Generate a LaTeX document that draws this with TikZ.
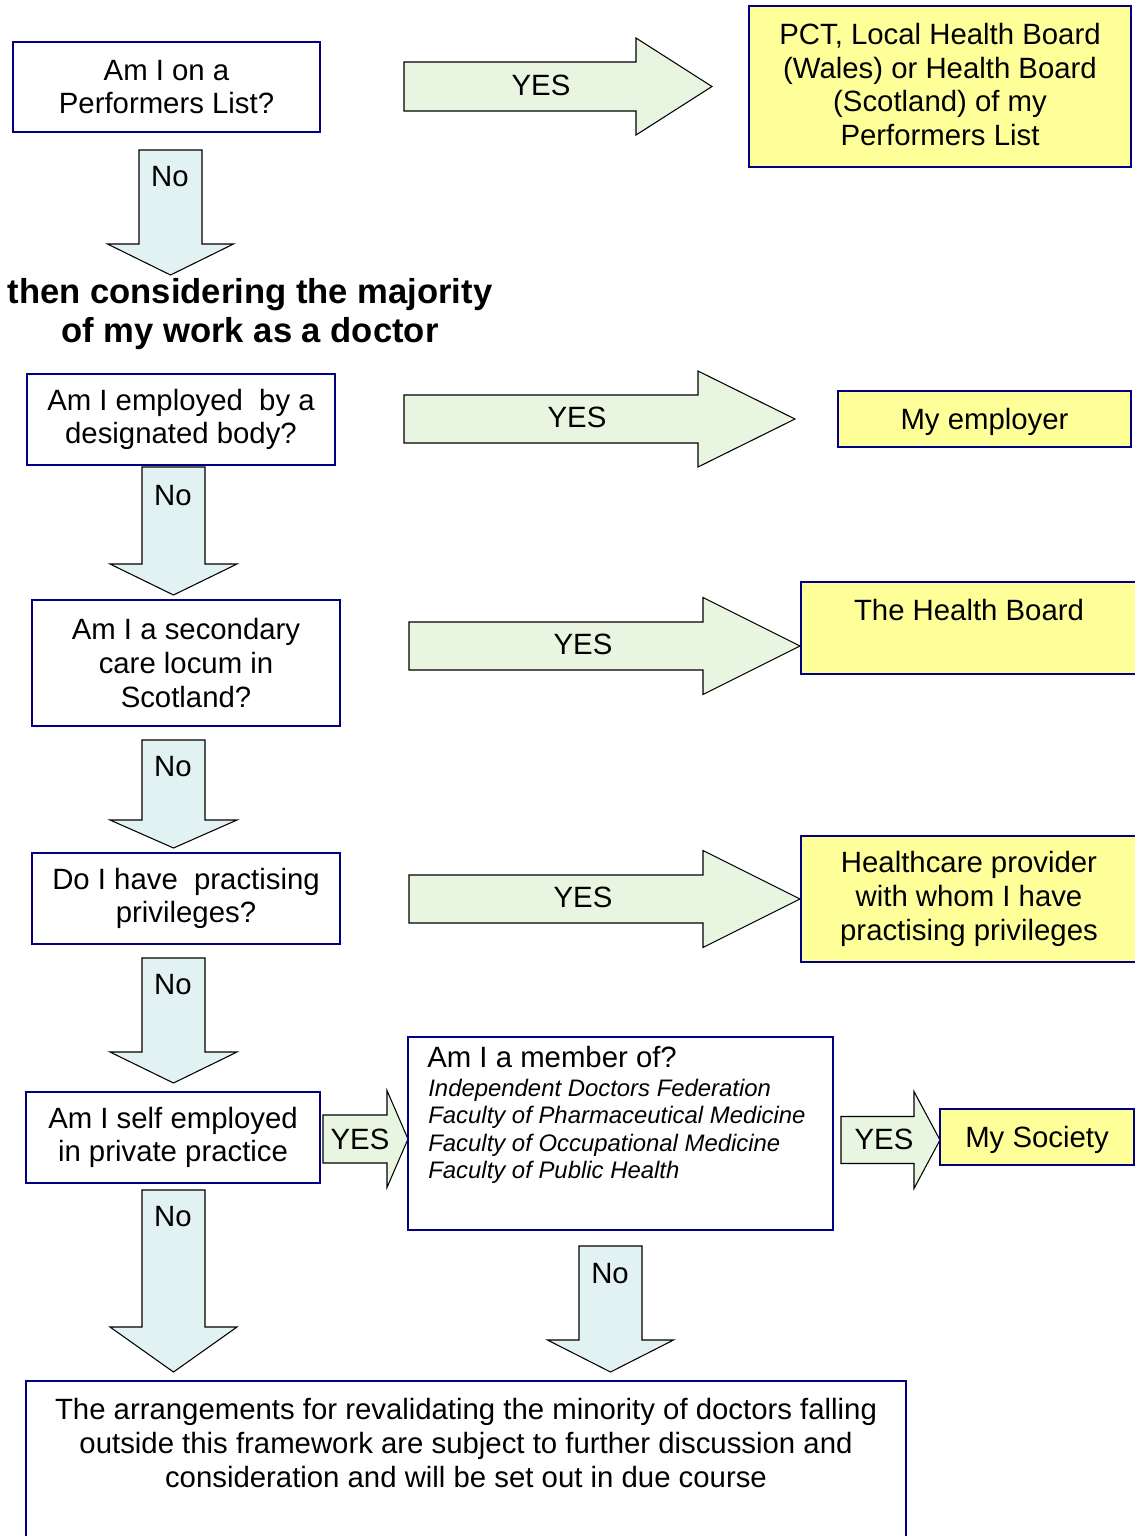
\documentclass[tikz,border=0pt]{standalone}
\usepackage{fontspec}
\setmainfont{Liberation Sans}

\definecolor{boxblue}{RGB}{0,0,128}
\definecolor{answer}{RGB}{255,255,153}
\definecolor{yesgreen}{RGB}{231,245,225}
\definecolor{nocyan}{RGB}{226,241,242}

\newcommand{\pxu}{0.02cm}
% right pointing block arrow: start, head base, tip, centre y, half body, half head
\newcommand{\yesarrow}[6]{%
  \draw[yesfill] (#1,#4-#5) -- (#2,#4-#5) -- (#2,#4-#6) -- (#3,#4)
    -- (#2,#4+#6) -- (#2,#4+#5) -- (#1,#4+#5) -- cycle;}
% downward block arrow: centre x, start, head base, tip, half body, half head
\newcommand{\noarrow}[6]{%
  \draw[nofill] (#1-#5,#2) -- (#1+#5,#2) -- (#1+#5,#3) -- (#1+#6,#3)
    -- (#1,#4) -- (#1-#6,#3) -- (#1-#5,#3) -- cycle;}

\begin{document}
\begin{tikzpicture}[x=0.02cm, y=-0.02cm,
    every node/.style={font=\fontsize{16.7}{19.2}\selectfont, inner sep=0pt, align=center},
    boxdim/.style 2 args={minimum width=#1*\pxu, minimum height=#2*\pxu},
    qbox/.style={draw=boxblue, line width=1.1pt, fill=white},
    ybox/.style={qbox, fill=answer},
    yesfill/.style={draw=black, line width=0.6pt, fill=yesgreen},
    nofill/.style={draw=black, line width=0.6pt, fill=nocyan}]
    \useasboundingbox (0,0) rectangle (1135,1536);

    % Performers list
    \node[qbox, boxdim={307}{90}] (performers) at (166.5,87) {Am I on a\\Performers List?};
    \yesarrow{404}{636}{712}{86.5}{24.5}{48.5}
    \node (yes1) at (541,85) {YES};
    \node[ybox, boxdim={382}{161}] (pct) at (940,86.5) {};
    \node (pcttxt) at (940,84.5)
        {PCT, Local Health Board\\(Wales) or Health Board\\(Scotland) of my\\Performers List};
    \noarrow{170.5}{150}{244}{275}{31.5}{63}
    \node (no1) at (170,177) {No};

    % Heading
    \node[font=\fontsize{19.7}{22.7}\selectfont\bfseries] (majority) at (250,314)
        {then considering the majority\\of my work as a doctor};

    % Designated body
    \node[qbox, boxdim={308}{91}] (employed) at (181,419.5) {Am I employed~ by a\\designated body?};
    \yesarrow{404}{698}{795}{419}{24}{48}
    \node (yes2) at (577,417) {YES};
    \node[ybox, boxdim={293}{56}, text depth=0pt] (employer) at (984.5,419) {My employer};
    \noarrow{173.5}{467}{564}{595}{31.5}{63.5}
    \node (no2) at (173,496) {No};

    % Locum in Scotland
    \node[qbox, boxdim={308}{126}] (locum) at (186,663) {Am I a secondary\\care locum in\\Scotland?};
    \yesarrow{409}{703}{800}{646}{24}{48.5}
    \node (yes3) at (583,644) {YES};
    \node[ybox, boxdim={336}{92}] (board) at (969,628) {};
    \node (boardtxt) at (969,610) {The Health Board};
    \noarrow{173.5}{740}{820}{848}{31.5}{63.5}
    \node (no3) at (173,767) {No};

    % Practising privileges
    \node[qbox, boxdim={308}{91}] (privileges) at (186,898.5) {Do I have~ practising\\privileges?};
    \yesarrow{409}{703}{800}{899}{24}{48.5}
    \node (yes4) at (583,897) {YES};
    \node[ybox, boxdim={336}{126}] (provider) at (969,899)
        {Healthcare provider\\with whom I have\\practising privileges};
    \noarrow{173.5}{958}{1052}{1083}{31.5}{63.5}
    \node (no4) at (173,985) {No};

    % Self employed
    \node[qbox, boxdim={294}{91}] (selfemp) at (173,1137.5) {Am I self employed\\in private practice};
    \yesarrow{323}{387}{408}{1139}{24}{48.5}
    \node (yes5) at (360,1139) {YES};
    \node[qbox, boxdim={425}{193}] (member) at (620.5,1133.5) {};
    \node[anchor=west] (membertitle) at (427,1057) {Am I a member of?};
    \node[anchor=north west, align=left, font=\fontsize{13.6}{15.5}\selectfont\itshape] (societies) at (428,1079)
        {Independent Doctors Federation\\Faculty of Pharmaceutical Medicine\\Faculty of Occupational Medicine\\Faculty of Public Health};
    \yesarrow{841}{914}{940}{1140}{23.5}{48.5}
    \node (yes6) at (884,1139) {YES};
    \node[ybox, boxdim={194}{56}, text depth=0pt] (society) at (1037,1137) {My Society};
    \noarrow{173.5}{1190}{1327}{1372}{31.5}{63.5}
    \node (no5) at (173,1217) {No};
    \noarrow{610.5}{1246}{1340}{1372}{31.5}{63}
    \node (no6) at (610,1274) {No};

    % Everyone else
    \node[qbox, boxdim={880}{164}] (minority) at (466,1463) {};
    \node (minoritytxt) at (466,1443)
        {The arrangements for revalidating the minority of doctors falling\\outside this framework are subject to further discussion and\\consideration and will be set out in due course};
\end{tikzpicture}
\end{document}
